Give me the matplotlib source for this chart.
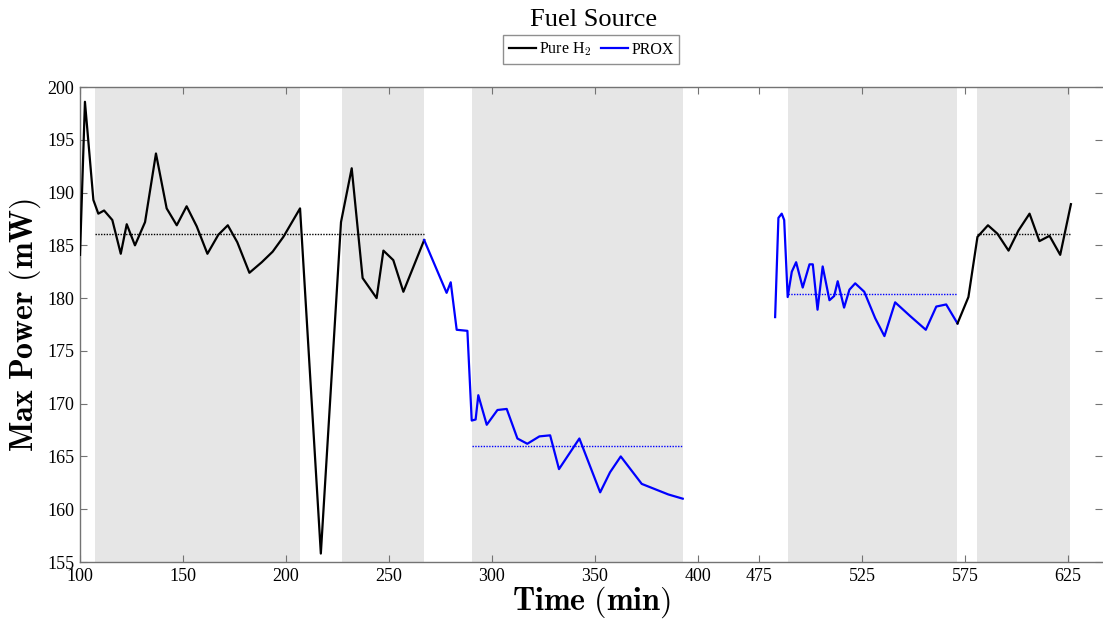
import matplotlib.pyplot as plt
from matplotlib.lines import Line2D

plt.rcParams["mathtext.fontset"] = "cm"
plt.rcParams["font.family"] = ["Liberation Serif", "DejaVu Serif"]

# tiempo real (min); despues del hueco el eje se comprime
GAP_START = 475
GAP_SHIFT = 45

h2_t1 = [100, 102.4, 106.5, 108.9, 111.7, 115.7, 119.8, 122.7, 126.7, 131.6,
         136.9, 142.1, 147.0, 151.8, 156.7, 161.9, 167.2, 171.8, 176.4, 182.3,
         188.3, 193.6, 198.8, 206.9, 217.0, 226.8, 232.0, 237.3, 244.1, 247.4,
         252.2, 257.1, 267.2]
h2_p1 = [184.1, 198.6, 189.3, 188.0, 188.3, 187.4, 184.2, 187.0, 185.0, 187.2,
         193.7, 188.5, 186.9, 188.7, 186.8, 184.2, 186.0, 186.9, 185.3, 182.4,
         183.4, 184.4, 185.8, 188.5, 155.8, 187.2, 192.3, 181.9, 180.0, 184.5,
         183.6, 180.6, 185.5]

prox_t1 = [267.2, 278.1, 280.1, 283.0, 288.2, 290.3, 292.2, 293.5, 297.6, 302.8,
           307.3, 312.5, 317.3, 323.2, 328.4, 332.7, 342.6, 352.7, 357.5, 362.7,
           372.9, 385.8, 392.8]
prox_p1 = [185.5, 180.5, 181.5, 177.0, 176.9, 168.4, 168.5, 170.8, 168.0, 169.4,
           169.5, 166.7, 166.2, 166.9, 167.0, 163.8, 166.7, 161.6, 163.5, 165.0,
           162.4, 161.4, 161.0]

prox_t2 = [482.7, 484.3, 485.9, 487.1, 488.8, 490.8, 492.9, 496.1, 499.4, 501.0,
           503.3, 505.8, 509.1, 511.4, 513.1, 516.2, 518.8, 521.6, 526.0, 531.3,
           535.8, 541.0, 548.3, 555.9, 561.0, 565.8, 571.3]
prox_p2 = [178.2, 187.6, 188.0, 187.4, 180.1, 182.5, 183.4, 181.0, 183.2, 183.2,
           178.9, 183.0, 179.8, 180.2, 181.6, 179.1, 180.8, 181.4, 180.6, 178.1,
           176.4, 179.6, 178.3, 177.0, 179.2, 179.4, 177.6]

h2_t2 = [571.3, 576.6, 581.0, 586.1, 590.7, 596.1, 600.9, 606.3, 611.1, 616.0,
         621.2, 626.4]
h2_p2 = [177.6, 180.1, 185.8, 186.9, 186.1, 184.5, 186.4, 188.0, 185.4, 185.9,
         184.1, 188.9]

# zonas sombreadas (inicio, fin) y promedios (inicio, fin, valor, fuente)
zonas = [(107.3, 207.0), (227.3, 267.2), (290.5, 393.0), (489.0, 571.0), (581.0, 626.0)]
promedios = [(107.3, 267.2, 186.1, "h2"), (290.5, 393.0, 166.0, "prox"),
             (489.0, 571.0, 180.4, "prox"), (581.0, 626.0, 186.1, "h2")]

xticks_reales = [100, 150, 200, 250, 300, 350, 400, 475, 525, 575, 625]
yticks = list(range(155, 201, 5))

colores = {"h2": "black", "prox": "#0000ff"}


def eje(t):
    return [v - GAP_SHIFT if v >= GAP_START else v for v in t]


fig = plt.figure(figsize=(11.03, 6.22), dpi=100)
ax = fig.add_axes([80 / 1103, 60 / 622, 1022 / 1103, 475 / 622])

for a, b in zonas:
    xa, xb = eje([a, b])
    ax.axvspan(xa, xb, color="0.9", lw=0, zorder=0)

ax.plot(eje(h2_t1), h2_p1, color=colores["h2"], lw=1.6, zorder=3)
ax.plot(eje(prox_t1), prox_p1, color=colores["prox"], lw=1.6, zorder=3)
ax.plot(eje(prox_t2), prox_p2, color=colores["prox"], lw=1.6, zorder=3)
ax.plot(eje(h2_t2), h2_p2, color=colores["h2"], lw=1.6, zorder=3)

for a, b, v, f in promedios:
    ax.plot(eje([a, b]), [v, v], color=colores[f], lw=1.0,
            linestyle=(0, (1, 1)), zorder=2)

ax.set_xlim(100, 596.5)
ax.set_ylim(155, 200)
ax.set_xticks(eje(xticks_reales))
ax.set_xticklabels([str(v) for v in xticks_reales])
ax.set_yticks(yticks)
ax.tick_params(direction="in", top=True, right=True, length=5, width=0.8,
               color="0.45", labelsize=13, pad=4)
for s in ax.spines.values():
    s.set_color("0.45")
    s.set_linewidth(1.0)
ax.spines["right"].set_visible(False)

ax.set_xlabel(r"$\mathbf{Time\ (min)}$", fontsize=23, labelpad=0)
ax.set_ylabel(r"$\mathbf{Max\ Power\ (mW)}$", fontsize=23, labelpad=3)

handles = [Line2D([], [], color=colores["h2"], lw=1.6),
           Line2D([], [], color=colores["prox"], lw=1.6)]
leg = fig.legend(handles, ["Pure H$_2$", "PROX"], loc="lower center",
                 bbox_to_anchor=(0.536, 0.897), ncol=2, fontsize=11.5,
                 frameon=True, fancybox=False, handlelength=1.7,
                 handletextpad=0.2, columnspacing=0.6, borderpad=0.35,
                 borderaxespad=0)
leg.get_frame().set_edgecolor("0.45")
leg.get_frame().set_linewidth(1.0)
fig.text(0.5385, 0.968, "Fuel Source", ha="center", va="center", fontsize=19)

fig.savefig("out.png", dpi=100)
